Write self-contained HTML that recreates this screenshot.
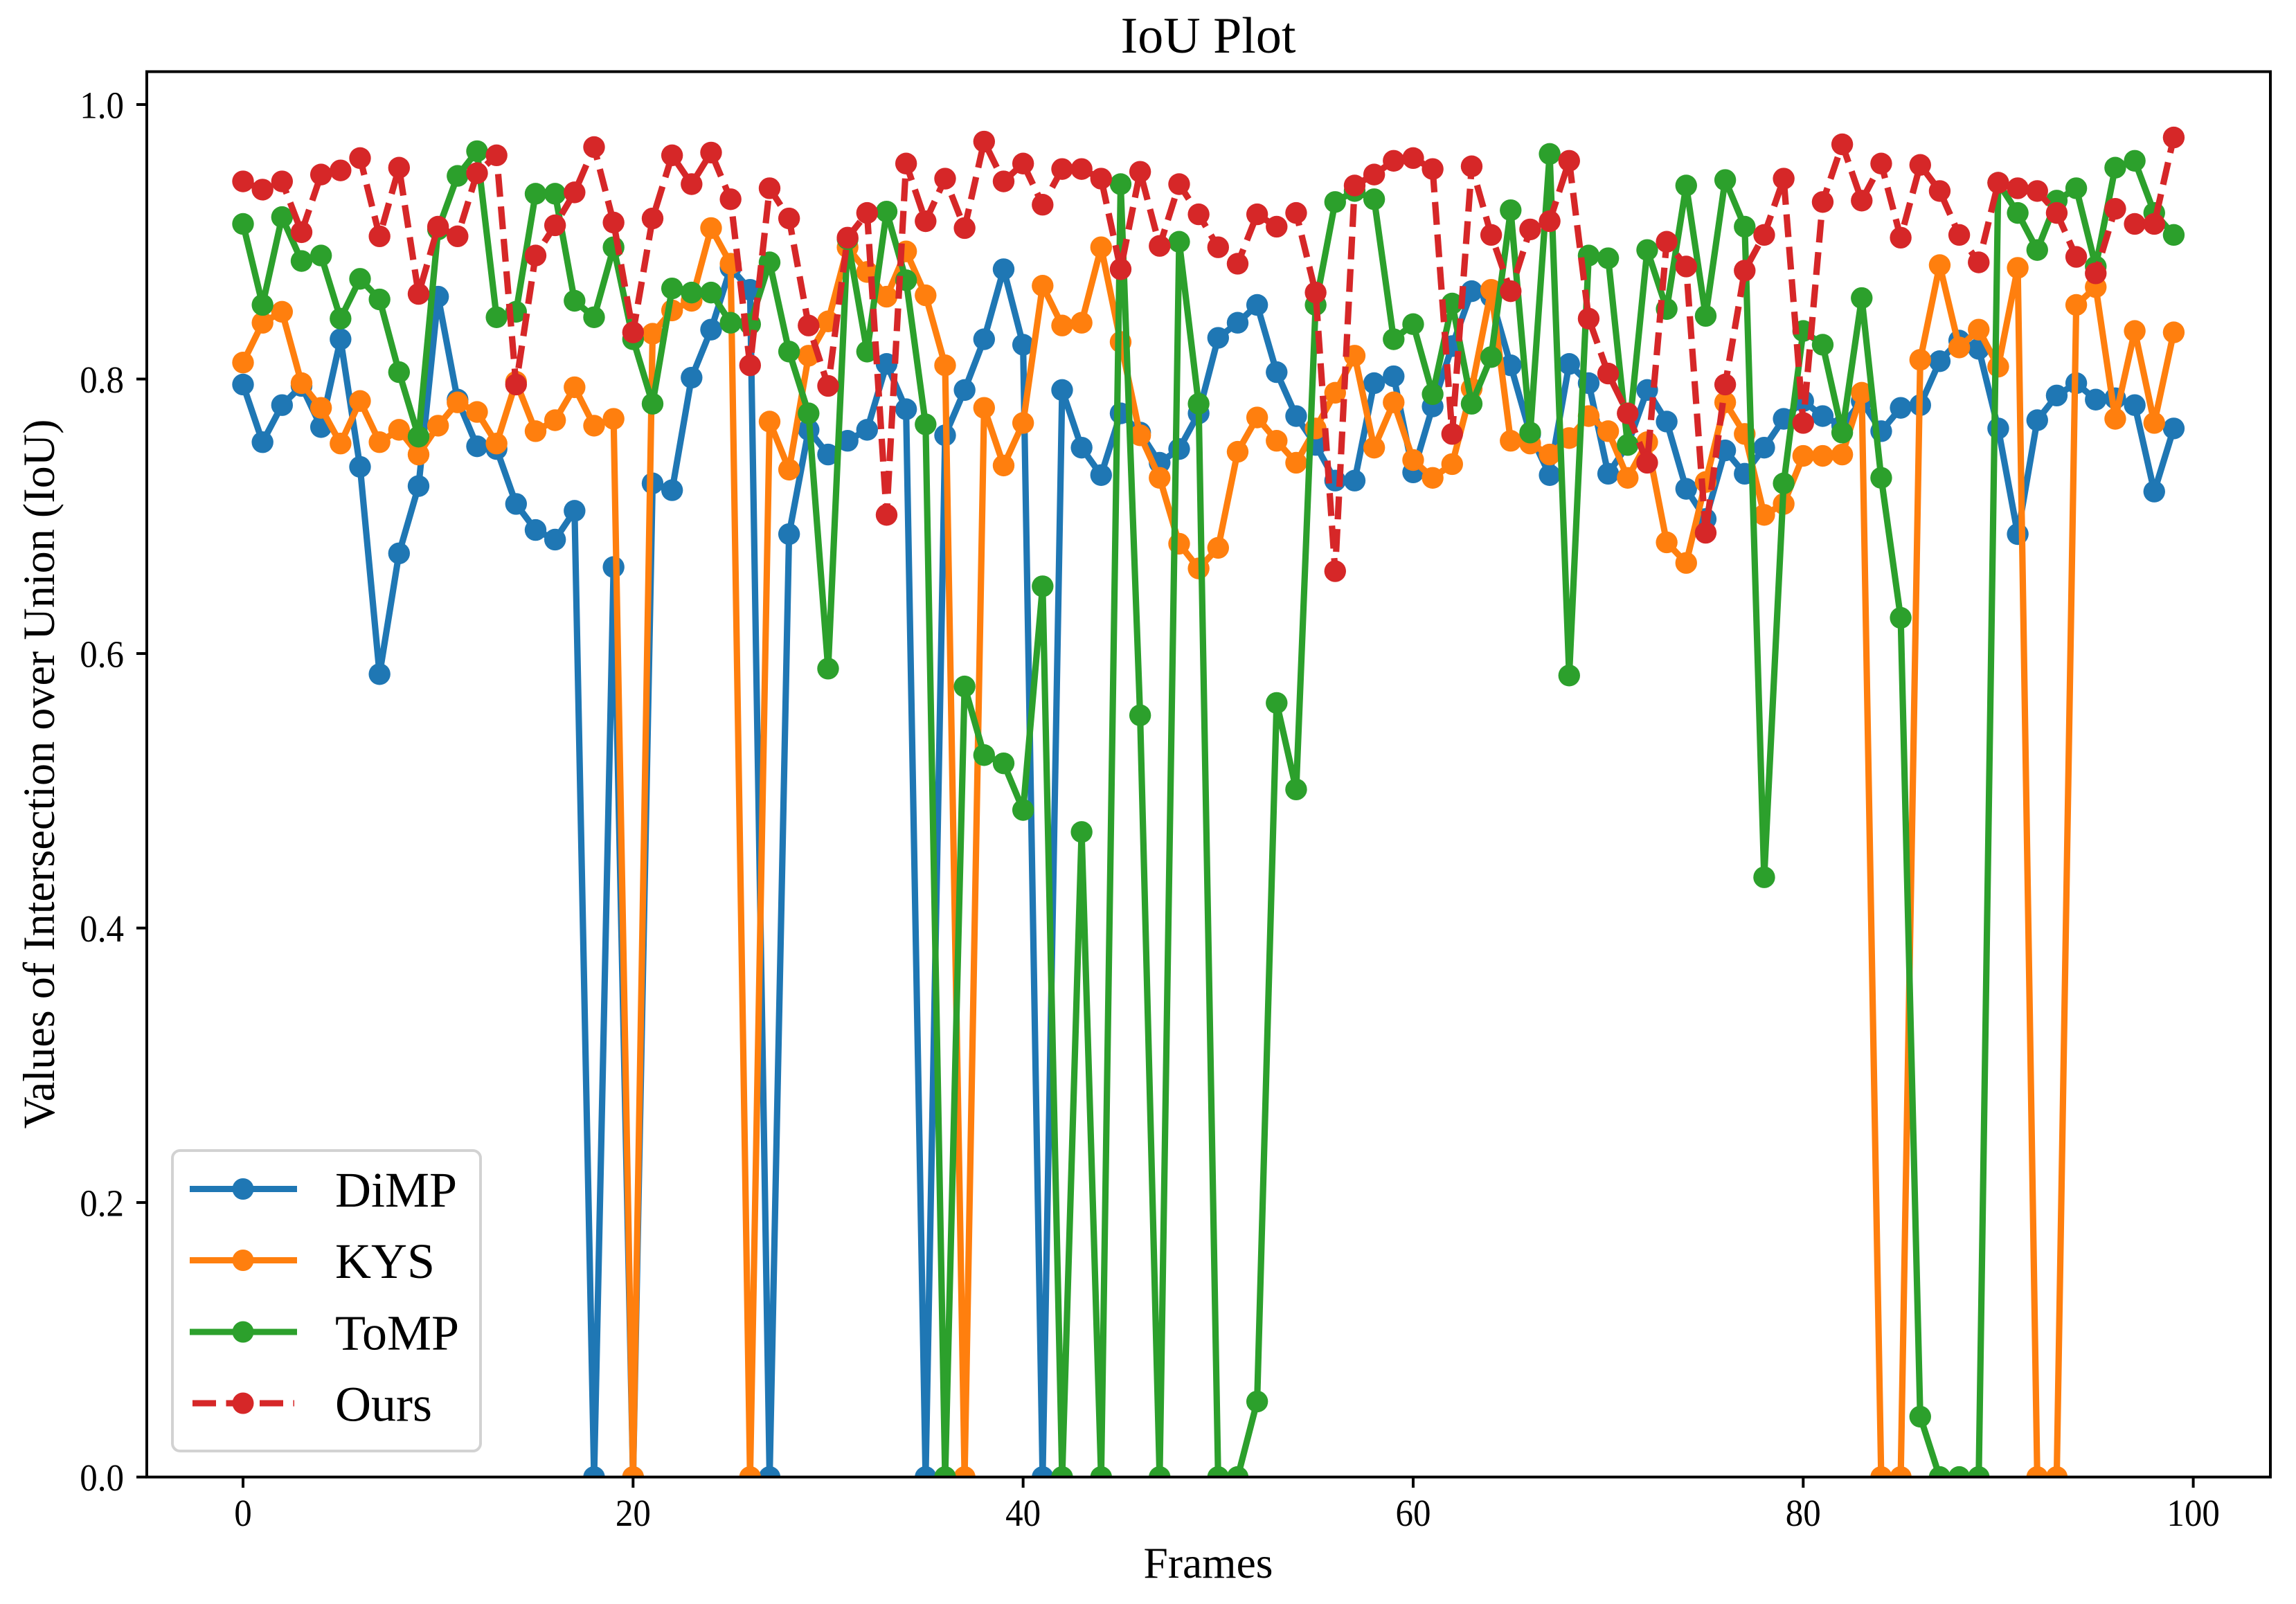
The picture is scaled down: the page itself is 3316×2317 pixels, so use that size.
<!DOCTYPE html>
<html lang="en">
<head>
<meta charset="utf-8">
<title>IoU Plot</title>
<style>
html,body{margin:0;padding:0;background:#fff;}
svg{display:block;font-family:"Liberation Serif","Times New Roman",serif;}
</style>
</head>
<body>
<svg id="chart" xmlns="http://www.w3.org/2000/svg" width="3316" height="2317" viewBox="0 0 3316 2317">
  <defs>
    <clipPath id="plot-clip"><rect x="212" y="103.5" width="3067" height="2030.1"/></clipPath>
  </defs>
  <rect x="0" y="0" width="3316" height="2317" fill="#fff"/>
  <text x="1745" y="76" font-size="74" text-anchor="middle" fill="#000">IoU Plot</text>
  <text x="1745" y="2279" font-size="63.5" text-anchor="middle" fill="#000">Frames</text>
  <text transform="translate(78 1118) rotate(-90)" font-size="64.2" text-anchor="middle" fill="#000">Values of Intersection over Union (IoU)</text>
  <g id="ticks"></g>
  <g id="series" clip-path="url(#plot-clip)"></g>
  <rect x="212" y="103.5" width="3067" height="2030.1" fill="none" stroke="#000" stroke-width="4"/>
  <g>
    <rect x="249" y="1662" width="445" height="434" rx="11" ry="11" fill="#fff" fill-opacity="0.9" stroke="#d2d2d2" stroke-width="4"/>
    <g>
      <line x1="274" x2="429" y1="1717.5" y2="1717.5" stroke="#1f77b4" stroke-width="9"/>
      <circle cx="351" cy="1717.5" r="15.5" fill="#1f77b4"/>
      <text x="484" y="1743" font-size="72" fill="#000">DiMP</text>
    </g>
    <g>
      <line x1="274" x2="429" y1="1820.5" y2="1820.5" stroke="#ff7f0e" stroke-width="9"/>
      <circle cx="351" cy="1820.5" r="15.5" fill="#ff7f0e"/>
      <text x="484" y="1846" font-size="72" fill="#000">KYS</text>
    </g>
    <g>
      <line x1="274" x2="429" y1="1924" y2="1924" stroke="#2ca02c" stroke-width="9"/>
      <circle cx="351" cy="1924" r="15.5" fill="#2ca02c"/>
      <text x="484" y="1949.5" font-size="72" fill="#000">ToMP</text>
    </g>
    <g>
      <line x1="278" x2="425" y1="2027" y2="2027" stroke="#d62728" stroke-width="9" stroke-dasharray="34 14.5"/>
      <circle cx="351" cy="2027" r="15.5" fill="#d62728"/>
      <text x="484" y="2052.5" font-size="72" fill="#000">Ours</text>
    </g>
  </g>
</svg>
<script>
const xTickValues = [0, 20, 40, 60, 80, 100];
const yTickValues = [0.0, 0.2, 0.4, 0.6, 0.8, 1.0];
const dimp = [.796,.754,.781,.795,.765,.829,.736,.585,.673,.722,.860,.785,.751,.749,.709,.690,.683,.704,0,.663,0,.724,.719,.801,.836,.881,.865,0,.687,.763,.745,.755,.763,.811,.778,0,.759,.792,.829,.880,.825,0,.792,.750,.730,.775,.761,.739,.749,.775,.830,.841,.854,.805,.773,.752,.726,.726,.797,.802,.732,.780,.824,.864,.860,.810,.760,.730,.811,.797,.731,.752,.792,.769,.720,.698,.748,.731,.750,.771,.784,.773,.766,.784,.762,.779,.781,.813,.828,.822,.764,.687,.770,.788,.797,.785,.786,.781,.718,.764];
const kys = [.812,.841,.849,.797,.779,.753,.784,.754,.763,.745,.766,.783,.776,.753,.798,.762,.770,.794,.766,.771,0,.833,.850,.857,.910,.884,0,.769,.734,.817,.842,.896,.878,.860,.893,.861,.810,0,.779,.737,.768,.868,.839,.841,.896,.827,.759,.728,.680,.662,.677,.747,.772,.755,.739,.764,.790,.817,.750,.783,.741,.728,.738,.793,.865,.755,.753,.745,.757,.773,.762,.728,.754,.681,.666,.725,.783,.760,.701,.709,.744,.744,.745,.790,0,0,.814,.883,.823,.836,.809,.881,0,0,.854,.867,.771,.835,.768,.834];
const tomp = [.913,.854,.918,.886,.890,.844,.873,.858,.805,.758,.909,.948,.966,.845,.849,.935,.935,.857,.845,.896,.829,.782,.866,.863,.863,.841,.840,.885,.820,.775,.589,.902,.820,.922,.872,.767,0,.576,.526,.520,.486,.649,0,.470,0,.942,.555,0,.900,.782,0,0,.055,.564,.501,.854,.929,.937,.931,.829,.840,.789,.855,.782,.816,.923,.761,.964,.584,.890,.888,.752,.894,.851,.941,.846,.945,.911,.437,.724,.835,.825,.761,.859,.728,.626,.044,0,0,0,.943,.921,.894,.930,.939,.882,.954,.959,.921,.905];
const ours = [.944,.938,.944,.907,.949,.952,.961,.904,.954,.862,.911,.904,.950,.963,.796,.890,.912,.936,.969,.914,.834,.917,.963,.942,.965,.931,.810,.939,.917,.839,.795,.903,.921,.701,.957,.915,.946,.910,.973,.944,.957,.927,.953,.953,.946,.880,.951,.897,.942,.920,.896,.884,.920,.911,.921,.863,.660,.941,.949,.959,.961,.953,.760,.955,.905,.864,.909,.915,.959,.844,.804,.775,.739,.900,.882,.688,.796,.879,.905,.946,.768,.929,.971,.930,.957,.903,.956,.937,.905,.885,.943,.939,.937,.921,.889,.877,.924,.913,.913,.976];

const SVG_NS = 'http://www.w3.org/2000/svg';
const xAxis = v => 351 + 28.166 * v;
const yAxis = v => 2133.6 - 1982.6 * v;

function make(tag, attrs, parent) {
  const el = document.createElementNS(SVG_NS, tag);
  for (const k in attrs) el.setAttribute(k, attrs[k]);
  parent.appendChild(el);
  return el;
}

const ticksGroup = document.getElementById('ticks');
xTickValues.forEach(v => {
  const tick = make('line', {x1: xAxis(v), x2: xAxis(v), y1: 2133.6, y2: 2149, stroke: '#000', 'stroke-width': 4}, ticksGroup);
  
  
  const label = make('text', {transform: 'translate(' + xAxis(v) + ' 2204) scale(1 1.07)', 'font-size': 51, 'text-anchor': 'middle', fill: '#000'}, ticksGroup);
  
  
  label.textContent = String(v);
});
yTickValues.forEach(v => {
  const tick = make('line', {x1: 197, x2: 212, y1: yAxis(v), y2: yAxis(v), stroke: '#000', 'stroke-width': 4}, ticksGroup);
  
  
  const label = make('text', {transform: 'translate(179 ' + (yAxis(v) + 19.5) + ') scale(1 1.07)', 'font-size': 51, 'text-anchor': 'end', fill: '#000'}, ticksGroup);
  
  
  label.textContent = v.toFixed(1);
});

const seriesGroup = document.getElementById('series');
function drawSeries(values, color, dash, name) {
  const g = make('g', {}, seriesGroup);
  
  
  const points = values.map((v, i) => xAxis(i).toFixed(1) + ',' + yAxis(v).toFixed(1)).join(' ');
  const attrs = {points: points, fill: 'none', stroke: color, 'stroke-width': 9.2, 'stroke-linejoin': 'round'};
  if (dash) attrs['stroke-dasharray'] = dash;
  const line = make('polyline', attrs, g);
  
  
  values.forEach((v, i) => {
    const dot = make('circle', {cx: xAxis(i), cy: yAxis(v), r: 15.7, fill: color}, g);
    
    
  });
}
drawSeries(dimp, '#1f77b4', null, 'dimp');
drawSeries(kys, '#ff7f0e', null, 'kys');
drawSeries(tomp, '#2ca02c', null, 'tomp');
drawSeries(ours, '#d62728', '33 14', 'ours');
</script>
</body>
</html>
